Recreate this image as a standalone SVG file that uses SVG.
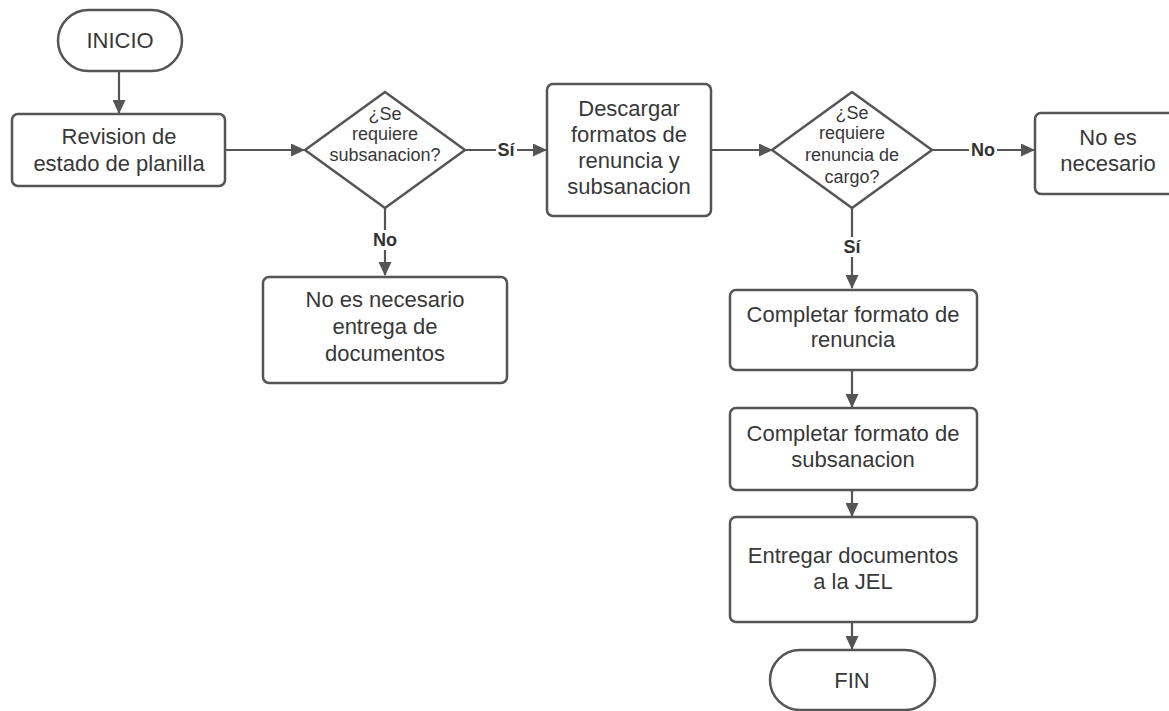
<svg xmlns="http://www.w3.org/2000/svg" width="1169" height="711" viewBox="0 0 1169 711">
<defs>
<marker id="ah" markerWidth="14" markerHeight="13" refX="13" refY="6.5" orient="auto" markerUnits="userSpaceOnUse">
<path d="M0,0 L14,6.5 L0,13 Z" fill="#555"/>
</marker>
<style>
.shape{fill:#fff;stroke:#555;stroke-width:2.5}
.t{font-family:"Liberation Sans",Arial,sans-serif;font-size:22px;fill:#383838;text-anchor:middle}
.d{font-family:"Liberation Sans",Arial,sans-serif;font-size:18px;fill:#383838;text-anchor:middle}
.lbl{font-family:"Liberation Sans",Arial,sans-serif;font-size:18px;font-weight:bold;fill:#333;text-anchor:middle}
.c{fill:none;stroke:#555;stroke-width:2.2}
</style>
</defs>
<rect width="1169" height="711" fill="#fff"/>
<g id="connectors">
<path class="c" d="M119,71 V113" marker-end="url(#ah)"/>
<path class="c" d="M225,150 H304" marker-end="url(#ah)"/>
<path class="c" d="M465,150 H546" marker-end="url(#ah)"/>
<path class="c" d="M385,208 V275" marker-end="url(#ah)"/>
<path class="c" d="M711,150 H772" marker-end="url(#ah)"/>
<path class="c" d="M932,150 H1034" marker-end="url(#ah)"/>
<path class="c" d="M852,208 V288" marker-end="url(#ah)"/>
<path class="c" d="M852,370 V407" marker-end="url(#ah)"/>
<path class="c" d="M852,490 V516" marker-end="url(#ah)"/>
<path class="c" d="M852,622 V649" marker-end="url(#ah)"/>
<rect x="496" y="140" width="21" height="20" fill="#fff"/>
<text class="lbl" x="506" y="156">Sí</text>
<rect x="969" y="140" width="28" height="20" fill="#fff"/>
<text class="lbl" x="983" y="156">No</text>
<rect x="371" y="230" width="28" height="20" fill="#fff"/>
<text class="lbl" x="385" y="246">No</text>
<rect x="841" y="237" width="22" height="20" fill="#fff"/>
<text class="lbl" x="852" y="253">Sí</text>
</g>
<g id="inicio">
<rect class="shape" x="58" y="10" width="124" height="61" rx="30.5"/>
<text class="t" x="120" y="48">INICIO</text>
</g>
<g id="revision">
<rect class="shape" x="12" y="114" width="213" height="72" rx="6"/>
<text class="t" x="119" y="144">Revision de</text>
<text class="t" x="119" y="171">estado de planilla</text>
</g>
<g id="decision1">
<path class="shape" d="M385,92 L465,150 L385,208 L305,150 Z" stroke-linejoin="round"/>
<text class="d" x="385" y="120">¿Se</text>
<text class="d" x="385" y="140">requiere</text>
<text class="d" x="385" y="161">subsanacion?</text>
</g>
<g id="descargar">
<rect class="shape" x="547" y="84" width="164" height="132" rx="6"/>
<text class="t" x="629" y="116">Descargar</text>
<text class="t" x="629" y="142">formatos de</text>
<text class="t" x="629" y="168">renuncia y</text>
<text class="t" x="629" y="194">subsanacion</text>
</g>
<g id="noentrega">
<rect class="shape" x="263" y="277" width="244" height="106" rx="6"/>
<text class="t" x="385" y="307">No es necesario</text>
<text class="t" x="385" y="334">entrega de</text>
<text class="t" x="385" y="361">documentos</text>
</g>
<g id="decision2">
<path class="shape" d="M852,92 L932,150 L852,208 L772,150 Z" stroke-linejoin="round"/>
<text class="d" x="852" y="119">¿Se</text>
<text class="d" x="852" y="139">requiere</text>
<text class="d" x="852" y="161">renuncia de</text>
<text class="d" x="852" y="183">cargo?</text>
</g>
<g id="nonecesario">
<rect class="shape" x="1035" y="113" width="146" height="81" rx="6"/>
<text class="t" x="1108" y="145">No es</text>
<text class="t" x="1108" y="171">necesario</text>
</g>
<g id="renuncia">
<rect class="shape" x="730" y="290" width="247" height="80" rx="6"/>
<text class="t" x="853" y="322">Completar formato de</text>
<text class="t" x="853" y="347">renuncia</text>
</g>
<g id="subsanacion">
<rect class="shape" x="730" y="408" width="247" height="82" rx="6"/>
<text class="t" x="853" y="441">Completar formato de</text>
<text class="t" x="853" y="467">subsanacion</text>
</g>
<g id="entregar">
<rect class="shape" x="730" y="517" width="247" height="105" rx="6"/>
<text class="t" x="853" y="563">Entregar documentos</text>
<text class="t" x="853" y="589">a la JEL</text>
</g>
<g id="fin">
<rect class="shape" x="770" y="650" width="165" height="60" rx="30"/>
<text class="t" x="852" y="688">FIN</text>
</g>
</svg>
